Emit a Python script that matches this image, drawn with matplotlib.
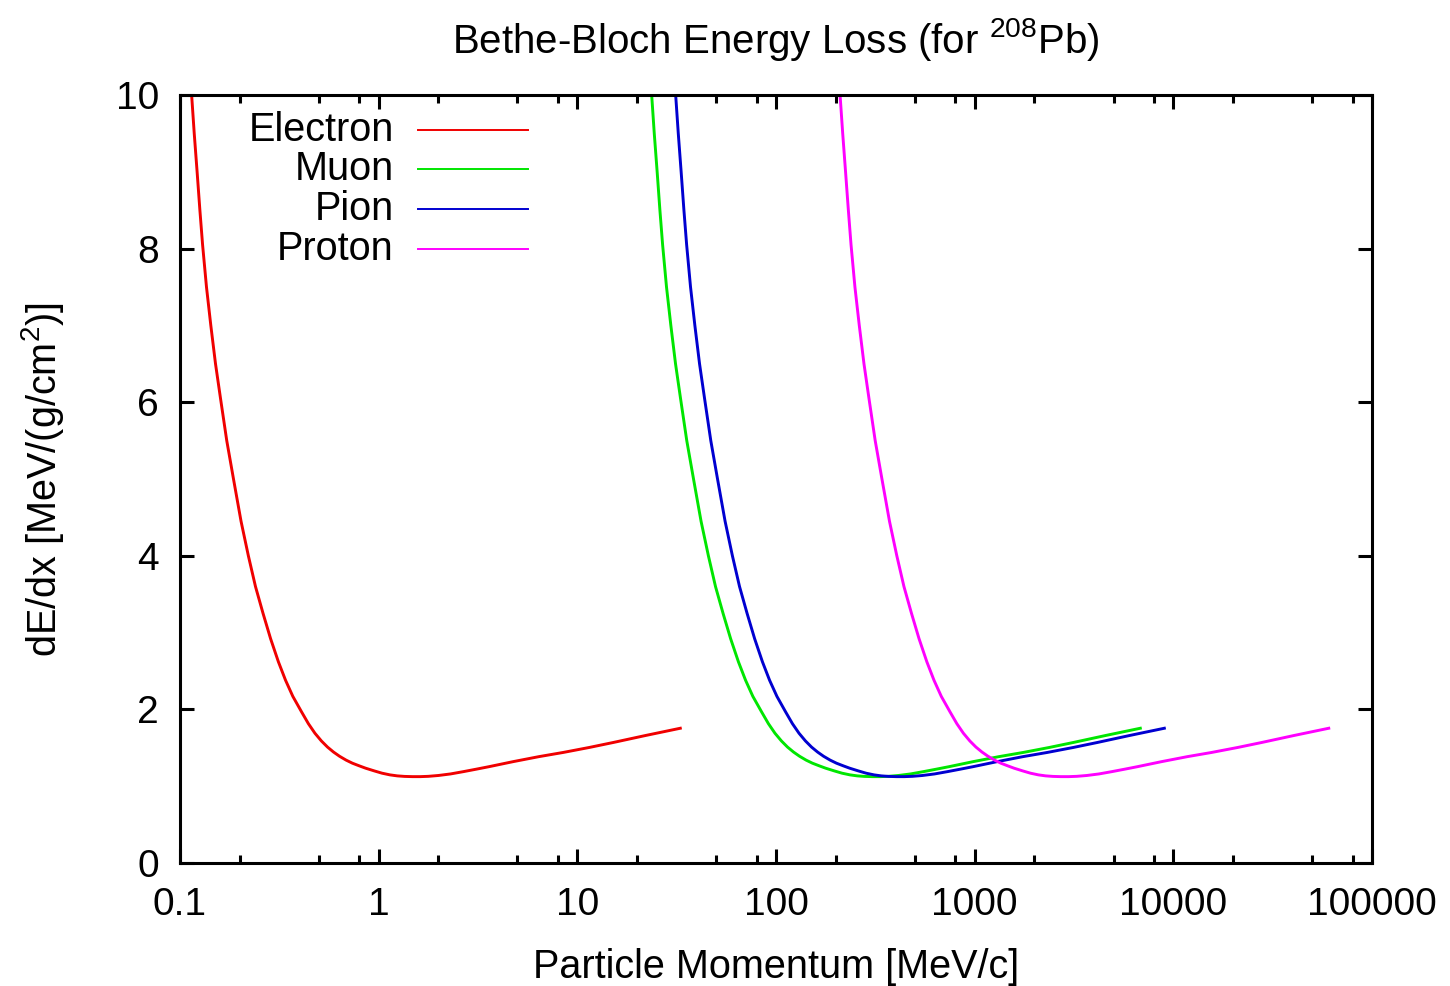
import numpy as np
import matplotlib.pyplot as plt
from matplotlib.ticker import FixedLocator, NullFormatter, FuncFormatter

plt.rcParams['font.family'] = ['Liberation Sans', 'DejaVu Sans']
plt.rcParams['mathtext.fontset'] = 'custom'
plt.rcParams['mathtext.rm'] = 'Liberation Sans'
plt.rcParams['mathtext.it'] = 'Liberation Sans'

# values (momentum in MeV/c, dE/dx in MeV/(g/cm2))
dedx = [10.0, 9.5, 9.0, 8.5, 8.05, 7.5, 7.0, 6.5, 6.05, 5.5,
        5.0, 4.45, 4.0, 3.6, 3.25, 2.92, 2.62, 2.38, 2.17, 1.97,
        1.815, 1.69, 1.59, 1.51, 1.445, 1.39, 1.34, 1.30, 1.265, 1.235,
        1.20, 1.17, 1.148, 1.135, 1.128, 1.125, 1.125, 1.129, 1.14, 1.16,
        1.19, 1.222, 1.255, 1.32, 1.385, 1.44, 1.505, 1.57, 1.66, 1.755]

p_electron = [0.1145, 0.118, 0.122, 0.126, 0.130, 0.136, 0.143, 0.151, 0.160, 0.172,
              0.186, 0.203, 0.221, 0.240, 0.262, 0.286, 0.313, 0.340, 0.370, 0.409,
              0.443, 0.478, 0.515, 0.553, 0.593, 0.636, 0.686, 0.738, 0.800, 0.860,
              0.950, 1.04, 1.14, 1.24, 1.35, 1.48, 1.62, 1.78, 2.00, 2.30,
              2.67, 3.10, 3.60, 4.75, 6.40, 8.50, 11.5, 15.2, 22.0, 33.0]
p_muon = [23.68, 24.40, 25.23, 26.05, 26.88, 28.12, 29.57, 31.22, 33.08, 35.56,
          38.46, 41.97, 45.70, 49.62, 54.17, 59.14, 64.72, 70.30, 76.50, 84.57,
          91.60, 98.84, 106.5, 114.3, 122.6, 131.5, 141.8, 152.6, 165.4, 177.8,
          196.4, 215.0, 235.7, 256.4, 279.1, 306.0, 335.0, 368.1, 413.5, 475.6,
          552.1, 641.0, 744.4, 982.2, 1323, 1758, 2378, 3143, 4549, 6823]
p_pion = [31.27, 32.23, 33.32, 34.41, 35.51, 37.15, 39.06, 41.24, 43.70, 46.98,
          50.80, 55.45, 60.36, 65.55, 71.56, 78.11, 85.49, 92.86, 101.1, 111.7,
          121.0, 130.6, 140.7, 151.0, 162.0, 173.7, 187.4, 201.6, 218.5, 234.9,
          259.5, 284.1, 311.4, 338.7, 368.7, 404.2, 442.5, 486.2, 546.3, 628.2,
          729.3, 846.7, 983.3, 1297, 1748, 2322, 3141, 4152, 6009, 9013]
p_proton = [210.2, 216.7, 224.0, 231.4, 238.7, 249.7, 262.6, 277.3, 293.8, 315.8,
            341.5, 372.7, 405.8, 440.7, 481.1, 525.1, 574.7, 624.3, 679.4, 751.0,
            813.4, 877.7, 945.6, 1015, 1089, 1168, 1260, 1355, 1469, 1579,
            1744, 1910, 2093, 2277, 2479, 2718, 2975, 3268, 3672, 4223,
            4903, 5692, 6610, 8722, 11751, 15607, 21116, 27910, 40395, 60593]

names = ['Electron', 'Muon', 'Pion', 'Proton']
colors = ['#f00000', '#00e600', '#0000d0', '#ff00ff']
momenta = [p_electron, p_muon, p_pion, p_proton]

xticks = [0.1, 1, 10, 100, 1000, 10000, 100000]
minor = [m * d for d in [0.1, 1, 10, 100, 1000, 10000] for m in (2, 5, 8)]

fig = plt.figure(figsize=(14.5, 9.86), dpi=100)
ax = fig.add_axes([0.1241, 0.1247, 0.8221, 0.779])

for p, name, c in zip(momenta, names, colors):
    ax.plot(p, dedx, color=c, lw=2.1)

ax.set_xscale('log')
ax.set_xlim(0.1, 100000)
ax.set_ylim(0, 10)
ax.xaxis.set_major_locator(FixedLocator(xticks))
ax.xaxis.set_major_formatter(FuncFormatter(lambda v, pos: f'{v:g}'))
ax.xaxis.set_minor_locator(FixedLocator(minor))
ax.xaxis.set_minor_formatter(NullFormatter())
ax.set_yticks([0, 2, 4, 6, 8, 10])

for s in ax.spines.values():
    s.set_linewidth(2.2)
ax.tick_params(which='both', direction='in', top=True, right=True,
               width=2.2, labelsize=28)
ax.tick_params(which='major', length=10)
ax.tick_params(which='minor', length=6)
ax.tick_params(axis='x', pad=17)
ax.tick_params(axis='y', pad=15)

ax.set_xlabel('Particle Momentum [MeV/c]', fontsize=28.5, labelpad=18)
ax.set_ylabel('dE/dx [MeV/(g/cm$^2$)]', fontsize=28.5, labelpad=36)
ax.set_title('Bethe-Bloch Energy Loss (for $^{208}$Pb)', fontsize=29, pad=30)

# gnuplot style key: right aligned text with line sample after it
for i, (name, c) in enumerate(zip(names, colors)):
    yk = 0.955 - i * 0.052
    ax.text(0.1795, yk, name, transform=ax.transAxes, ha='right', va='center',
            fontsize=28.5)
    ax.plot([0.2, 0.292], [yk, yk], transform=ax.transAxes, color=c, lw=1.4)

fig.savefig('out.png', dpi=100)
